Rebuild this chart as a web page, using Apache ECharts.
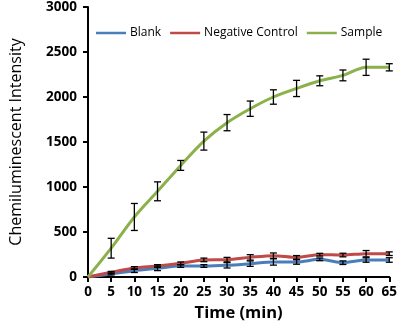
<!DOCTYPE html>
<html><head><meta charset="utf-8">
<script src="https://cdn.jsdelivr.net/npm/echarts@6/dist/echarts.min.js"></script>
<style>html,body{margin:0;padding:0;background:#fff}#c{width:400px;height:327px}</style>
</head><body><div id="c"></div>
<script>
const times = [0,5,10,15,20,25,30,35,40,45,50,55,60,65];
const blank = [0,33,70,96,122,122,130,148,167,167,196,159,189,189];
const blankErr = [0,10,20,25,15,15,30,30,35,25,15,20,25,25];
const negative = [0,52,100,122,152,190,193,218,237,218,248,244,259,259];
const negativeErr = [0,10,15,15,15,20,25,30,30,20,15,20,35,20];
const sample = [0,320,667,952,1240,1510,1715,1870,2000,2095,2180,2240,2330,2330];
const sampleErr = [0,110,150,105,55,100,90,85,80,90,55,60,90,40];
const xTicks = [0,5,10,15,20,25,30,35,40,45,50,55,60,65];
const yTicks = [0,500,1000,1500,2000,2500,3000];

const FONT = 'Open Sans';
function pairs(v){ return times.map((t,i)=>[t,v[i]]); }
function errData(v,e){ return times.map((t,i)=>[t,v[i]-e[i],v[i]+e[i]]).filter((d,i)=>e[i]>0); }
function errSeries(v,e){
  return {
    type:'custom', z:5, silent:true,
    data: errData(v,e),
    renderItem(params, api){
      const x = api.value(0);
      const lo = api.coord([x, api.value(1)]);
      const hi = api.coord([x, api.value(2)]);
      const w = 3.5;
      const st = {stroke:'#000', lineWidth:1.3};
      return {type:'group', children:[
        {type:'line', shape:{x1:lo[0],y1:lo[1],x2:hi[0],y2:hi[1]}, style:st},
        {type:'line', shape:{x1:lo[0]-w,y1:lo[1],x2:lo[0]+w,y2:lo[1]}, style:st},
        {type:'line', shape:{x1:hi[0]-w,y1:hi[1],x2:hi[0]+w,y2:hi[1]}, style:st}
      ]};
    }
  };
}
function lineSeries(name, v, color){
  return {name, type:'line', data:pairs(v), smooth:0.3, symbol:'none',
    lineStyle:{color, width:3}, itemStyle:{color}, z:3};
}
const chart = echarts.init(document.getElementById('c'), null, {renderer:'canvas'});
chart.setOption({
  animation:false,
  grid:{left:79, right:8, top:7, bottom:50, containLabel:false},
  legend:{
    top:27, left:96, width:304, padding:0, orient:'horizontal',
    icon:'rect', itemWidth:30, itemHeight:2.5, itemGap:9,
    textStyle:{fontFamily:FONT, fontSize:12, color:'#000', padding:[0,0,0,-1]},
    data:['Blank','Negative Control','Sample']
  },
  xAxis:{
    type:'value', min:0, max:65, interval:5,
    name:'Time (min)', nameLocation:'middle', nameGap:28,
    nameTextStyle:{fontFamily:FONT, fontSize:16.5, fontWeight:'bold', color:'#000'},
    axisLine:{lineStyle:{color:'#000', width:2}},
    axisTick:{show:true, length:5, lineStyle:{color:'#000', width:2}},
    axisLabel:{fontFamily:FONT, fontSize:13.5, fontWeight:'bold', color:'#000', margin:8,
      formatter:v=> xTicks.includes(v)? String(v):''},
    splitLine:{show:false}
  },
  yAxis:{
    type:'value', min:0, max:3000, interval:500,
    name:'Chemiluminescent Intensity', nameLocation:'middle', nameGap:64,
    nameTextStyle:{fontFamily:FONT, fontSize:16, color:'#000'},
    axisLine:{show:true, lineStyle:{color:'#000', width:2}},
    axisTick:{show:true, length:5, lineStyle:{color:'#000', width:2}},
    axisLabel:{fontFamily:FONT, fontSize:13.5, fontWeight:'bold', color:'#000', margin:11,
      formatter:v=> yTicks.includes(v)? String(v):''},
    splitLine:{show:false}
  },
  series:[
    lineSeries('Blank', blank, '#4a7ebb'),
    lineSeries('Negative Control', negative, '#be4b48'),
    lineSeries('Sample', sample, '#8cb04a'),
    errSeries(blank, blankErr),
    errSeries(negative, negativeErr),
    errSeries(sample, sampleErr)
  ]
});
</script></body></html>
